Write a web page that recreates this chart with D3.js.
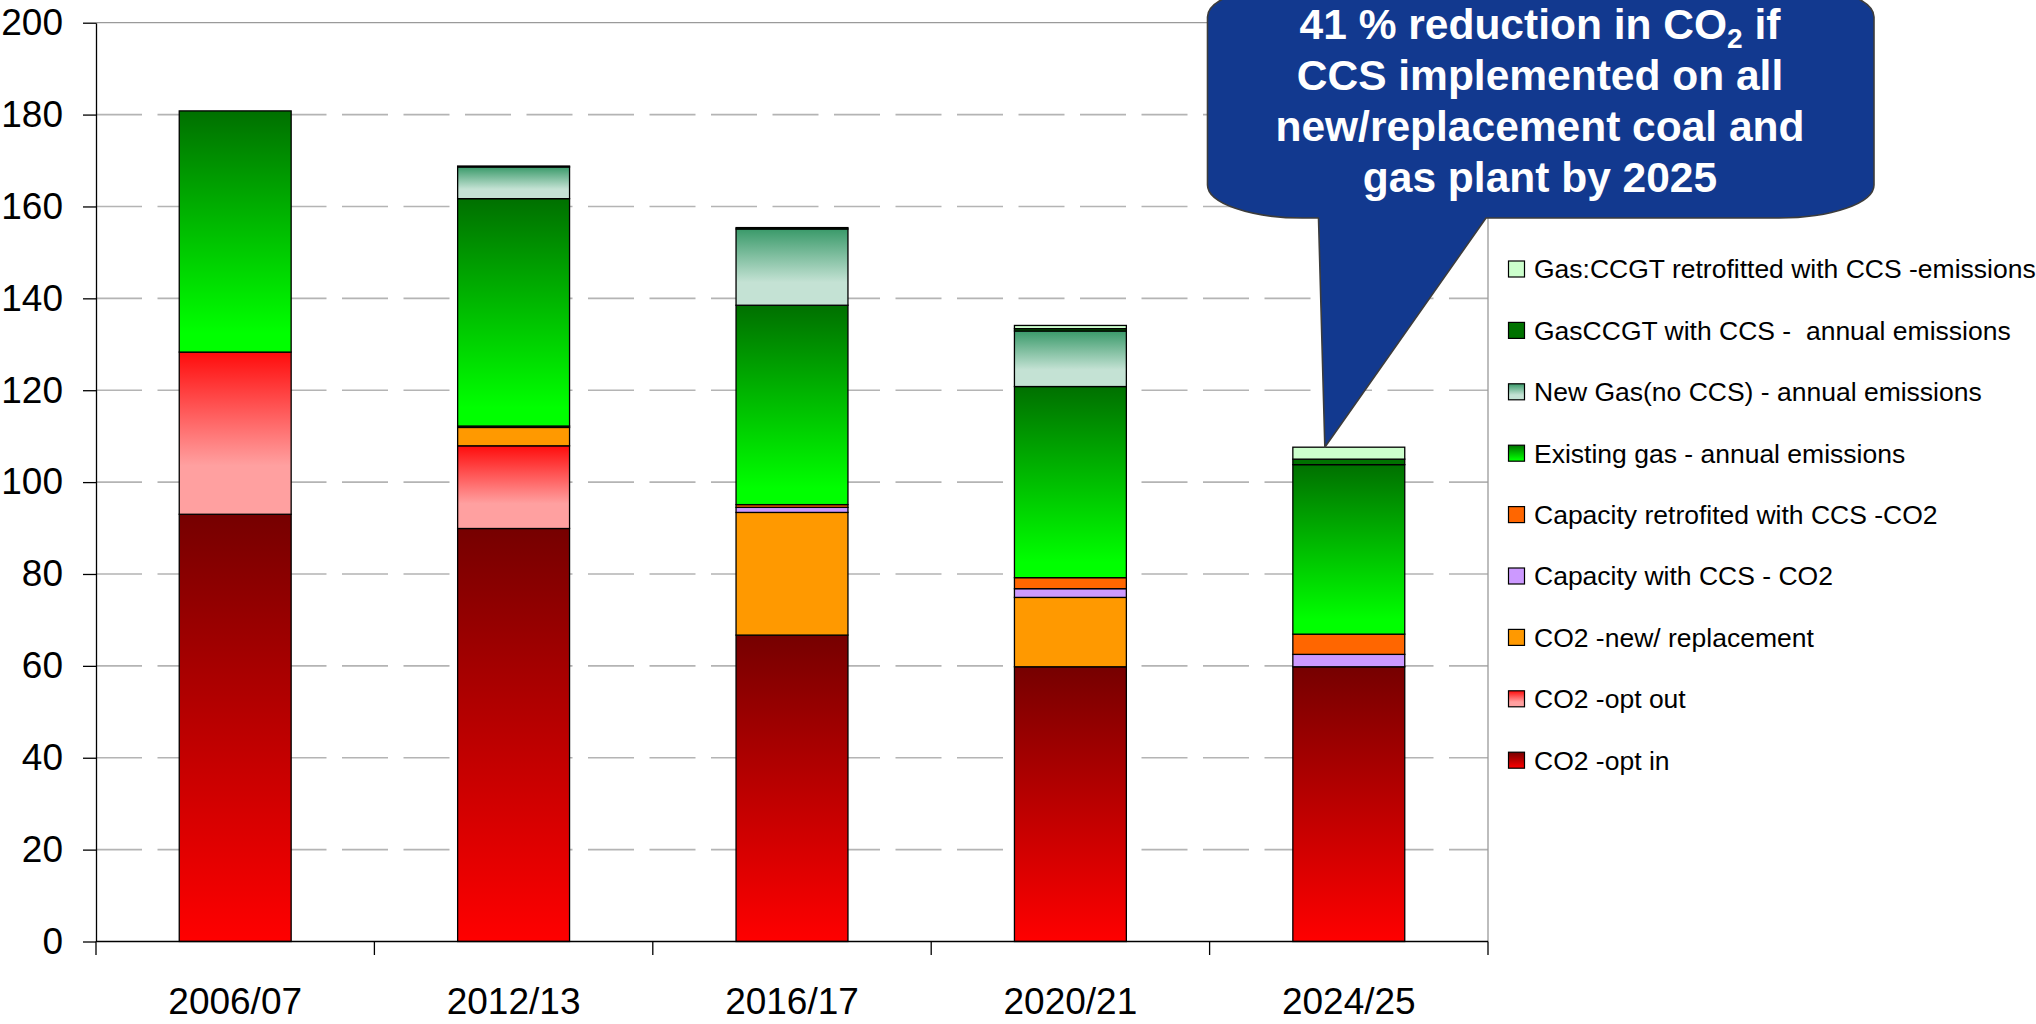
<!DOCTYPE html>
<html>
<head>
<meta charset="utf-8">
<script src="https://cdn.jsdelivr.net/npm/d3@7"></script>
<style>
  html, body { margin: 0; padding: 0; background: #ffffff; }
  svg { display: block; }
  text { font-family: "Liberation Sans", Arial, sans-serif; }
</style>
</head>
<body>
<svg id="chart" width="2036" height="1024"></svg>
<script>
// Power-sector CO2 emissions (Mt) by period, stacked by source.
const categories = ["2006/07", "2012/13", "2016/17", "2020/21", "2024/25"];

const co2OptIn          = [93.0, 89.9, 66.7, 59.8, 59.8];
const co2OptOut         = [35.3, 18.0, 0, 0, 0];
const co2NewReplacement = [0, 4.0, 26.7, 15.1, 0];
const capacityWithCCS   = [0, 0.3, 1.1, 1.9, 2.7];
const capacityRetrofit  = [0, 0, 0.6, 2.4, 4.4];
const existingGas       = [52.5, 49.5, 43.4, 41.6, 36.9];
const newGasNoCCS       = [0, 6.9, 16.6, 12.1, 0];
const gasCCGTWithCCS    = [0, 0.2, 0.3, 0.5, 1.2];
const gasCCGTRetrofit   = [0, 0, 0, 0.7, 2.6];

const yTicks = [0, 20, 40, 60, 80, 100, 120, 140, 160, 180, 200];

const calloutLines = [
  [{ t: "41 % reduction in CO" }, { t: "2", sub: true }, { t: " if" }],
  [{ t: "CCS implemented on all" }],
  [{ t: "new/replacement coal and" }],
  [{ t: "gas plant by 2025" }]
];

// Series, bottom of the stack first
const series = [
  { key: "optIn",    name: "CO2 -opt in",                               values: co2OptIn,          fill: "url(#gOptIn)" },
  { key: "optOut",   name: "CO2 -opt out",                              values: co2OptOut,         fill: "url(#gOptOut)" },
  { key: "newRepl",  name: "CO2 -new/ replacement",                     values: co2NewReplacement, fill: "#ff9900" },
  { key: "withCCS",  name: "Capacity with CCS - CO2",                   values: capacityWithCCS,   fill: "#cc99ff" },
  { key: "retro",    name: "Capacity retrofited with CCS -CO2",         values: capacityRetrofit,  fill: "#ff6600" },
  { key: "exGas",    name: "Existing gas - annual emissions",           values: existingGas,       fill: "url(#gExGas)" },
  { key: "newGas",   name: "New Gas(no CCS) - annual emissions",        values: newGasNoCCS,       fill: "url(#gNewGas)" },
  { key: "gasCCS",   name: "GasCCGT with CCS -  annual emissions",      values: gasCCGTWithCCS,    fill: "#007200" },
  { key: "gasRetro", name: "Gas:CCGT retrofitted with CCS -emissions",  values: gasCCGTRetrofit,   fill: "#ccffcc" }
];

const table = categories.map((c, i) => {
  const row = { category: c };
  series.forEach(s => { row[s.key] = s.values[i]; });
  return row;
});

const svg = d3.select("#chart");
const defs = svg.append("defs");

function gradient(id, stops) {
  const g = defs.append("linearGradient").attr("id", id)
    .attr("x1", 0).attr("y1", 0).attr("x2", 0).attr("y2", 1);
  stops.forEach(([o, c]) => g.append("stop").attr("offset", o).attr("stop-color", c));
}
gradient("gOptIn",  [[0, "#760000"], [1, "#ff0000"]]);
gradient("gOptOut", [[0, "#ff0c0c"], [0.7, "#ffa0a0"], [1, "#ffa0a0"]]);
gradient("gExGas",  [[0, "#007000"], [0.92, "#00ff00"], [1, "#00ff00"]]);
gradient("gNewGas", [[0, "#3a9a6a"], [0.7, "#c4e2d4"], [1, "#c4e2d4"]]);

const plot = { left: 96, right: 1488, top: 22.7, bottom: 941.5 };

const x = d3.scaleBand()
  .domain(categories)
  .range([plot.left, plot.right])
  .paddingInner(0.598)
  .paddingOuter(0.299);

const y = d3.scaleLinear()
  .domain([0, 200])
  .range([plot.bottom, plot.top]);

// Dashed gridlines, solid top border
svg.append("g").selectAll("line")
  .data(yTicks.filter(v => v > 0 && v < 200))
  .join("line")
  .attr("x1", plot.left).attr("x2", plot.right)
  .attr("y1", d => y(d)).attr("y2", d => y(d))
  .attr("stroke", "#b4b4b4").attr("stroke-width", 1.6)
  .attr("stroke-dasharray", "46 15.5");

svg.append("line")
  .attr("x1", plot.left).attr("x2", plot.right)
  .attr("y1", y(200)).attr("y2", y(200))
  .attr("stroke", "#9a9a9a").attr("stroke-width", 1.3);
svg.append("line")
  .attr("x1", plot.right).attr("x2", plot.right)
  .attr("y1", y(200)).attr("y2", plot.bottom)
  .attr("stroke", "#9a9a9a").attr("stroke-width", 1.3);

// Stacked bars
const stacked = d3.stack().keys(series.map(s => s.key))(table);

svg.append("g").selectAll("g")
  .data(stacked)
  .join("g")
  .attr("fill", (d, i) => series[i].fill)
  .selectAll("rect")
  .data(d => d.filter(p => p[1] - p[0] > 0))
  .join("rect")
  .attr("x", d => x(d.data.category))
  .attr("width", x.bandwidth())
  .attr("y", d => y(d[1]))
  .attr("height", d => y(d[0]) - y(d[1]))
  .attr("stroke", "#000")
  .attr("stroke-width", 1.3);

// Y axis
const yAxis = d3.axisLeft(y).tickValues(yTicks).tickSize(13).tickPadding(20).tickSizeOuter(0);
const gy = svg.append("g").attr("transform", `translate(${plot.left},0)`).call(yAxis);
gy.select(".domain").attr("stroke", "#000").attr("stroke-width", 1.3);
gy.selectAll(".tick line").attr("stroke", "#000").attr("stroke-width", 1.3);
gy.selectAll(".tick text")
  .attr("font-size", 37).attr("fill", "#000")
  .attr("font-family", "'Liberation Sans', Arial, sans-serif");

// X axis: baseline, ticks at category boundaries, centred labels
svg.append("line")
  .attr("x1", plot.left).attr("x2", plot.right)
  .attr("y1", plot.bottom).attr("y2", plot.bottom)
  .attr("stroke", "#000").attr("stroke-width", 1.3);

const boundaries = d3.range(categories.length + 1).map(i => plot.left + i * (plot.right - plot.left) / categories.length);
svg.append("g").selectAll("line")
  .data(boundaries)
  .join("line")
  .attr("x1", d => d).attr("x2", d => d)
  .attr("y1", plot.bottom).attr("y2", plot.bottom + 13.5)
  .attr("stroke", "#000").attr("stroke-width", 1.3);

svg.append("g").selectAll("text")
  .data(categories)
  .join("text")
  .attr("x", d => x(d) + x.bandwidth() / 2)
  .attr("y", 1014)
  .attr("text-anchor", "middle")
  .attr("font-size", 37)
  .attr("fill", "#000")
  .text(d => d);

// Legend, top series first
const legend = svg.append("g").attr("transform", "translate(1508.5,269)");
const legendItems = series.slice().reverse();
const row = legend.selectAll("g")
  .data(legendItems)
  .join("g")
  .attr("transform", (d, i) => `translate(0,${i * 61.4})`);
row.append("rect")
  .attr("x", 0).attr("y", -8).attr("width", 16).attr("height", 16)
  .attr("fill", d => d.fill)
  .attr("stroke", "#000").attr("stroke-width", 1.2);
row.append("text")
  .attr("x", 25.5).attr("y", 0).attr("dy", "0.355em")
  .attr("font-size", 26.5)
  .attr("fill", "#000")
  .style("white-space", "pre")
  .text(d => d.name);

// Callout bubble pointing at the 2024/25 bar
const lastCat = categories[categories.length - 1];
const lastTotal = stacked[stacked.length - 1][categories.length - 1][1];
const tip = [x(lastCat) + 32, y(lastTotal)];
const box = { l: 1207.5, r: 1874, t: -16, b: 218, rx: 95, ry: 33 };
const tailL = 1318.5, tailR = 1486;

const p = d3.path();
p.moveTo(box.l + box.rx, box.t);
p.lineTo(box.r - box.rx, box.t);
p.bezierCurveTo(box.r - box.rx * 0.45, box.t, box.r, box.t + box.ry * 0.45, box.r, box.t + box.ry);
p.lineTo(box.r, box.b - box.ry);
p.bezierCurveTo(box.r, box.b - box.ry * 0.45, box.r - box.rx * 0.45, box.b, box.r - box.rx, box.b);
p.lineTo(tailR, box.b);
p.lineTo(tip[0], tip[1]);
p.lineTo(tailL, box.b);
p.lineTo(box.l + box.rx, box.b);
p.bezierCurveTo(box.l + box.rx * 0.45, box.b, box.l, box.b - box.ry * 0.45, box.l, box.b - box.ry);
p.lineTo(box.l, box.t + box.ry);
p.bezierCurveTo(box.l, box.t + box.ry * 0.45, box.l + box.rx * 0.45, box.t, box.l + box.rx, box.t);
p.closePath();

svg.append("path")
  .attr("d", p.toString())
  .attr("fill", "#12398f")
  .attr("stroke", "#3c3c3c")
  .attr("stroke-width", 1.6)
  .attr("stroke-linejoin", "round");

const calloutText = svg.append("text")
  .attr("text-anchor", "middle")
  .attr("font-size", 42.5)
  .attr("font-weight", "bold")
  .attr("fill", "#ffffff");

calloutLines.forEach((parts, i) => {
  const line = calloutText.append("tspan")
    .attr("x", 1540)
    .attr("y", 38.5 + i * 51);
  parts.forEach((part, j) => {
    const ts = line.append("tspan").text(part.t);
    if (part.sub) ts.attr("font-size", 28).attr("dy", 9);
    else if (j > 0 && parts[j - 1].sub) ts.attr("dy", -9);
  });
});
</script>
</body>
</html>
